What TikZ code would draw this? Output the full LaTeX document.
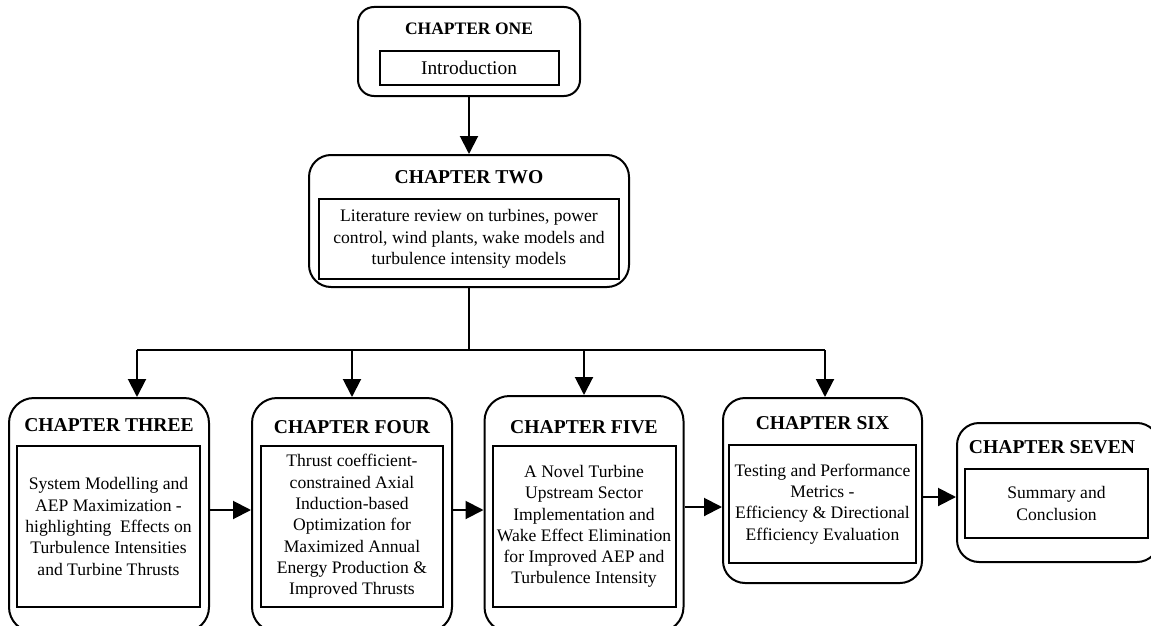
\documentclass[tikz,border=0pt]{standalone}
\usepackage{fontspec}
\setmainfont{Liberation Serif}
\usetikzlibrary{arrows.meta}
\tikzset{
  outer/.style={draw, line width=2pt, rounded corners=22pt, inner sep=0pt},
  inner/.style={draw, line width=2pt, inner sep=0pt, align=center, font=\fontsize{17.6}{21.3}\selectfont},
  ttl/.style={inner sep=0pt, font=\fontsize{19.6}{22}\selectfont\bfseries},
  arr/.style={line width=2pt, -{Triangle[length=18pt,width=18pt]}},
  ln/.style={line width=2pt}
}
\begin{document}
\begin{tikzpicture}[x=1pt,y=-1pt]
\useasboundingbox (0,0) rectangle (1151,626);
\clip (0,0) rectangle (1151,626);
% chapter one
\node[outer, rounded corners=16pt, minimum width=222pt, minimum height=89pt] (c1) at (469,51.5) {};
\node[ttl, font=\fontsize{17.5}{20}\selectfont\bfseries] (t1) at (469,29) {CHAPTER ONE};
\node[inner, font=\fontsize{19.4}{22}\selectfont, minimum width=179pt, minimum height=34pt] (i1) at (469,68) {Introduction};
% chapter two
\node[outer, minimum width=320pt, minimum height=132pt] (c2) at (469,221) {};
\node[ttl] (t2) at (469,177) {CHAPTER TWO};
\node[inner, minimum width=300pt, minimum height=80pt] (i2) at (469,239) {Literature review on turbines, power\\control, wind plants, wake models and\\turbulence intensity models};
% chapter three
\node[outer, rounded corners=25pt, minimum width=200pt, minimum height=234pt] (c3) at (109,515) {};
\node[ttl] (t3) at (109,425) {CHAPTER THREE};
\node[inner, minimum width=183pt, minimum height=161pt] (i3) at (108.5,526.5) {System Modelling and\\AEP Maximization -\\highlighting\ \ Effects on\\Turbulence Intensities\\and Turbine Thrusts};
% chapter four
\node[outer, rounded corners=25pt, minimum width=200pt, minimum height=234pt] (c4) at (352,515) {};
\node[ttl] (t4) at (352,427) {CHAPTER FOUR};
\node[inner, minimum width=182pt, minimum height=161pt] (i4) at (352,526.5) {Thrust coefficient-\\constrained Axial\\Induction-based\\Optimization for\\Maximized Annual\\Energy Production \&\\Improved Thrusts};
% chapter five
\node[outer, rounded corners=25pt, minimum width=199pt, minimum height=236pt] (c5) at (584,514) {};
\node[ttl] (t5) at (584,427) {CHAPTER FIVE};
\node[inner, minimum width=183pt, minimum height=161pt] (i5) at (584,526.5) {A Novel Turbine\\Upstream Sector\\Implementation and\\Wake Effect Elimination\\for Improved AEP and\\Turbulence Intensity};
% chapter six
\node[outer, minimum width=199pt, minimum height=185pt] (c6) at (822.5,490.5) {};
\node[ttl] (t6) at (822.5,423) {CHAPTER SIX};
\node[inner, minimum width=187pt, minimum height=118pt] (i6) at (822.5,504) {Testing and Performance\\Metrics -\\Efficiency \& Directional\\Efficiency Evaluation};
% chapter seven
\node[outer, minimum width=202pt, minimum height=139pt] (c7) at (1058,492.5) {};
\node[ttl] (t7) at (1052,447) {CHAPTER SEVEN};
\node[inner, minimum width=183pt, minimum height=69pt] (i7) at (1056.5,503.5) {Summary and\\Conclusion};
% connectors
\draw[arr] (c1.south) -- (c2.north);
\coordinate (bus) at (469,350);
\coordinate (b3) at (137,350);
\coordinate (b6) at (825,350);
\draw[ln] (c2.south) -- (bus);
\draw[ln] (b3) -- (b6);
\draw[arr] (b3) -- (b3 |- c3.north);
\draw[arr] (c4.north |- bus) -- (c4.north);
\draw[arr] (c5.north |- bus) -- (c5.north);
\draw[arr] (b6) -- (b6 |- c6.north);
\coordinate (h34) at (0,510);
\coordinate (h56) at (0,507);
\coordinate (h67) at (0,497);
\draw[arr] (c3.east |- h34) -- (c4.west |- h34);
\draw[arr] (c4.east |- h34) -- (c5.west |- h34);
\draw[arr] (c5.east |- h56) -- (c6.west |- h56);
\draw[arr] (c6.east |- h67) -- (c7.west |- h67);
\end{tikzpicture}
\end{document}
